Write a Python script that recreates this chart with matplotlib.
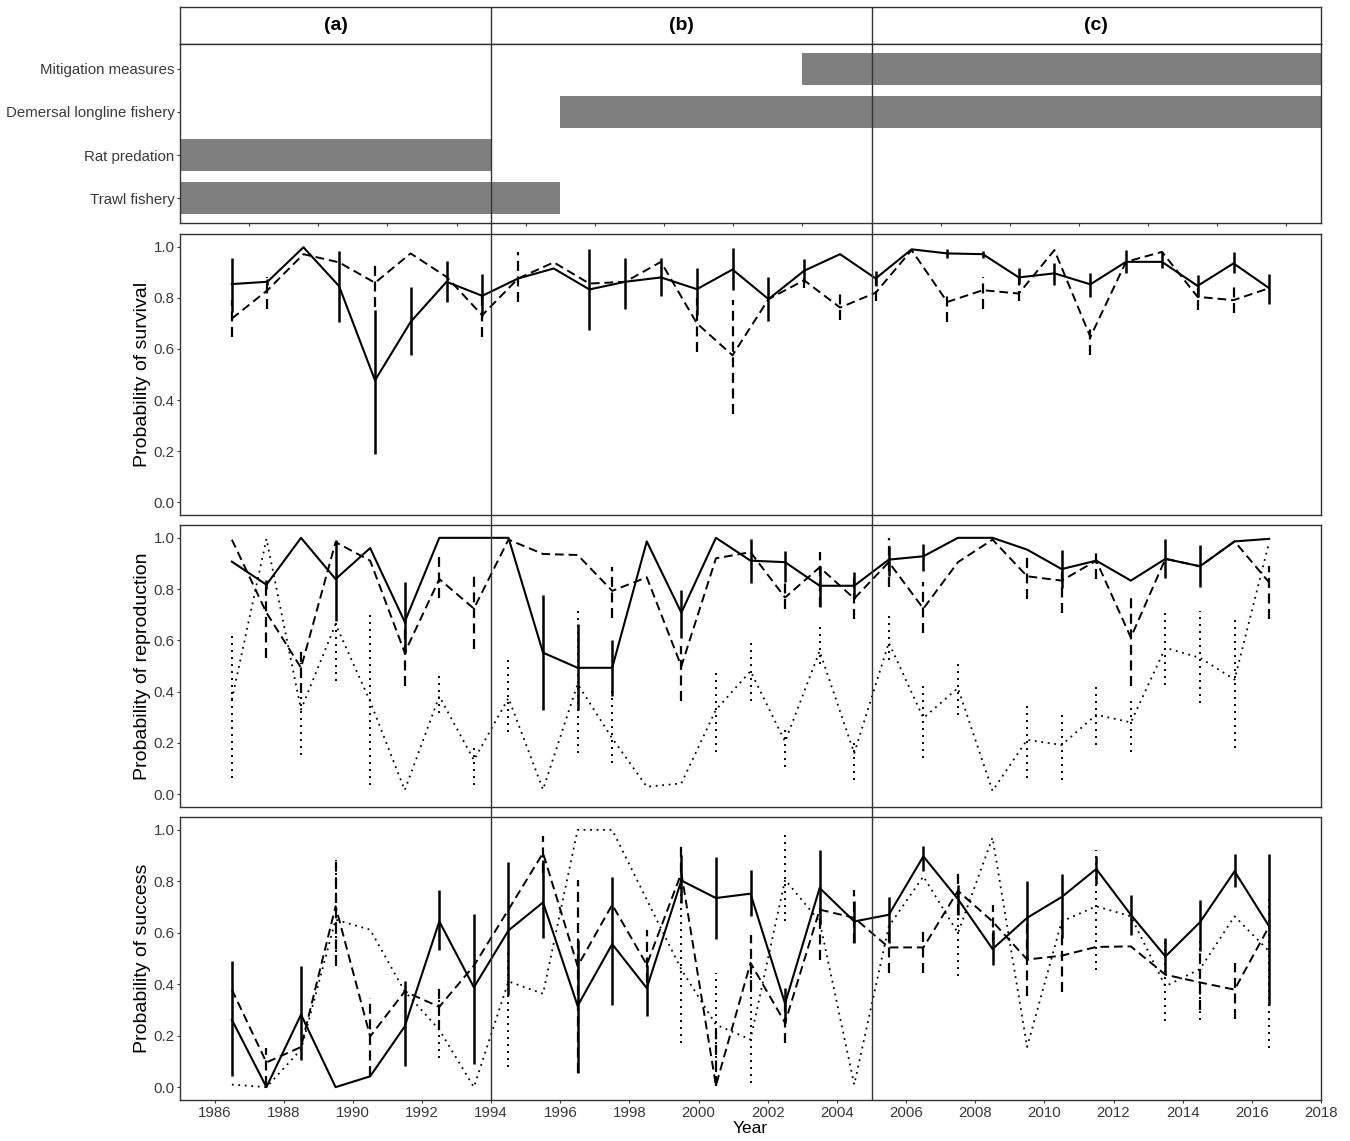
import numpy as np
import matplotlib
matplotlib.use("Agg")
import matplotlib.pyplot as plt

plt.rcParams['font.family'] = ['Liberation Sans', 'DejaVu Sans']

# ---------------- data ----------------
pressures = ["Trawl fishery", "Rat predation", "Demersal longline fishery", "Mitigation measures"]
press_start = [1985, 1985, 1996, 2003]
press_end = [1996, 1994, 2018, 2018]

period_labels = ["(a)", "(b)", "(c)"]
period_bounds = [1985, 1994, 2005, 2018]

years = [1986.5, 1987.5, 1988.5, 1989.5, 1990.5, 1991.5, 1992.5, 1993.5, 1994.5, 1995.5,
         1996.5, 1997.5, 1998.5, 1999.5, 2000.5, 2001.5, 2002.5, 2003.5, 2004.5, 2005.5,
         2006.5, 2007.5, 2008.5, 2009.5, 2010.5, 2011.5, 2012.5, 2013.5, 2014.5, 2015.5, 2016.5]

surv_x = [1986.50, 1987.53, 1988.57, 1989.60, 1990.64, 1991.67, 1992.71, 1993.74, 1994.78, 1995.81,
          1996.84, 1997.88, 1998.91, 1999.95, 2000.98, 2002.02, 2003.05, 2004.09, 2005.12, 2006.16,
          2007.19, 2008.22, 2009.26, 2010.29, 2011.33, 2012.36, 2013.40, 2014.43, 2015.47, 2016.50]

# survival, solid series
surv1 = [0.854, 0.863, 0.998, 0.846, 0.477, 0.706, 0.863, 0.808, 0.876, 0.915,
         0.833, 0.863, 0.880, 0.834, 0.911, 0.795, 0.906, 0.971, 0.876, 0.990,
         0.974, 0.971, 0.880, 0.896, 0.853, 0.941, 0.941, 0.847, 0.935, 0.838]
surv1_lo = [0.745, 0.852, None, 0.704, 0.190, 0.575, 0.784, 0.730, None, None,
            0.676, 0.758, 0.808, 0.732, 0.830, 0.709, 0.863, None, 0.848, None,
            0.955, 0.955, 0.856, 0.850, 0.805, 0.896, 0.915, 0.805, 0.896, 0.775]
surv1_hi = [0.958, 0.872, None, 0.984, 0.754, 0.843, 0.945, 0.893, None, None,
            0.990, 0.958, 0.958, 0.915, 0.994, 0.882, 0.951, None, 0.906, None,
            0.990, 0.985, 0.915, 0.935, 0.896, 0.986, 0.980, 0.890, 0.980, 0.892]
# survival, dashed series
surv2 = [0.719, 0.830, 0.971, 0.939, 0.859, 0.974, 0.882, 0.732, 0.876, 0.939,
         0.856, 0.863, 0.941, 0.700, 0.575, 0.795, 0.869, 0.762, 0.820, 0.987,
         0.784, 0.830, 0.817, 0.987, 0.647, 0.941, 0.980, 0.804, 0.791, 0.838]
surv2_lo = [0.647, 0.757, None, None, 0.765, None, None, 0.647, 0.784, None,
            None, None, None, 0.588, 0.347, None, 0.840, 0.712, 0.786, None,
            0.706, 0.756, 0.786, None, 0.575, None, None, 0.752, 0.741, None]
surv2_hi = [0.790, 0.880, None, None, 0.935, None, None, 0.820, 0.980, None,
            None, None, None, 0.800, 0.791, None, 0.900, 0.817, 0.876, None,
            0.824, 0.882, 0.876, None, 0.693, None, None, 0.837, 0.843, None]

# reproduction
repr1 = [0.907, 0.817, 1.000, 0.839, 0.960, 0.672, 1.000, 1.000, 1.000, 0.552,
         0.493, 0.493, 0.986, 0.708, 1.000, 0.911, 0.905, 0.813, 0.813, 0.915,
         0.928, 1.000, 1.000, 0.954, 0.878, 0.911, 0.833, 0.918, 0.889, 0.986, 0.996]
repr1_lo = [None, 0.800, None, 0.676, None, 0.552, None, None, None, 0.329,
            0.329, 0.384, None, 0.610, None, 0.824, 0.826, 0.732, 0.761, 0.852,
            0.870, None, None, None, 0.803, None, None, 0.842, 0.807, None, None]
repr1_hi = [None, 0.835, None, 0.993, None, 0.826, None, None, None, 0.776,
            0.663, 0.601, None, 0.797, None, 0.996, 0.950, 0.891, 0.865, 0.970,
            0.975, None, None, None, 0.954, None, None, 0.996, 0.973, None, None]
repr2 = [0.993, 0.708, 0.493, 0.983, 0.911, 0.552, 0.839, 0.724, 0.993, 0.937,
         0.933, 0.793, 0.846, 0.499, 0.920, 0.944, 0.767, 0.885, 0.763, 0.905,
         0.724, 0.905, 0.993, 0.850, 0.833, 0.911, 0.611, 0.918, 0.889, 0.986, 0.826]
repr2_lo = [None, 0.532, 0.395, None, None, 0.421, 0.767, 0.565, None, None,
            None, 0.689, None, 0.362, None, None, 0.723, 0.732, 0.682, 0.807,
            0.630, None, None, 0.761, 0.708, 0.839, 0.421, None, None, None, 0.685]
repr2_hi = [None, 0.833, 0.565, None, None, 0.682, 0.924, 0.868, None, None,
            None, 0.885, None, 0.578, None, None, 0.837, 0.944, 0.859, 1.000,
            0.826, None, None, 0.924, 0.870, 0.960, 0.776, None, None, None, 0.891]
repr3 = [0.369, 0.996, 0.330, 0.663, 0.362, 0.016, 0.382, 0.133, 0.375, 0.018,
         0.430, 0.218, 0.029, 0.042, 0.329, 0.480, 0.205, 0.558, 0.160, 0.591,
         0.297, 0.414, 0.013, 0.212, 0.192, 0.310, 0.280, 0.571, 0.532, 0.447, 0.983]
repr3_lo = [0.062, None, 0.153, 0.440, 0.035, None, 0.316, 0.035, 0.244, None,
            0.160, 0.120, None, None, 0.166, 0.362, 0.107, 0.506, 0.055, 0.525,
            0.140, 0.310, None, 0.062, 0.055, 0.192, 0.166, 0.427, 0.356, 0.179, None]
repr3_hi = [0.617, None, 0.513, 0.680, 0.715, None, 0.471, 0.192, 0.538, None,
            0.715, 0.414, None, None, 0.486, 0.604, 0.251, 0.656, 0.199, 0.695,
            0.427, 0.525, None, 0.356, 0.323, 0.434, 0.382, 0.722, 0.715, 0.689, None]

# success
succ1 = [0.262, 0.000, 0.282, 0.000, 0.042, 0.236, 0.644, 0.388, 0.609, 0.718,
         0.316, 0.556, 0.385, 0.803, 0.735, 0.752, 0.325, 0.774, 0.644, 0.670,
         0.897, 0.731, 0.537, 0.658, 0.739, 0.848, 0.670, 0.508, 0.641, 0.839, 0.625]
succ1_lo = [0.042, None, 0.104, None, None, 0.081, 0.534, 0.091, 0.359, 0.580,
            0.055, 0.318, 0.278, 0.716, 0.576, 0.664, 0.250, 0.635, 0.560, 0.560,
            0.839, 0.670, 0.476, 0.495, 0.580, 0.791, 0.593, 0.441, 0.528, 0.778, 0.321]
succ1_hi = [0.489, None, 0.472, None, None, 0.411, 0.765, 0.674, 0.874, 0.881,
            0.573, 0.817, 0.476, 0.904, 0.895, 0.843, 0.386, 0.920, 0.722, 0.739,
            0.936, 0.787, 0.612, 0.800, 0.830, 0.900, 0.748, 0.580, 0.729, 0.908, 0.908]
succ2 = [0.379, 0.096, 0.156, 0.703, 0.197, 0.372, 0.312, 0.472, 0.690, 0.910,
         0.470, 0.709, 0.476, 0.832, 0.006, 0.483, 0.250, 0.690, 0.658, 0.543,
         0.543, 0.763, 0.644, 0.496, 0.511, 0.545, 0.547, 0.437, 0.407, 0.379, 0.625]
succ2_lo = [None, 0.003, None, 0.476, 0.042, None, 0.223, None, None, 0.832,
            0.055, None, 0.405, 0.774, 0.006, 0.379, 0.172, 0.496, 0.560, 0.444,
            0.444, 0.670, 0.560, 0.353, 0.368, None, None, None, 0.300, 0.265, None]
succ2_hi = [None, 0.152, None, 0.884, 0.347, None, 0.392, 0.757, None, 0.975,
            0.806, None, 0.612, 0.949, 0.240, 0.593, 0.353, 0.698, 0.768, 0.606,
            0.606, 0.839, 0.709, 0.644, 0.651, None, None, None, 0.520, 0.483, None]
succ3 = [0.010, 0.000, 0.146, 0.651, 0.612, 0.372, 0.223, 0.000, 0.411, 0.363,
         1.000, 1.000, 0.729, 0.457, 0.243, 0.185, 0.806, 0.644, 0.010, 0.625,
         0.819, 0.599, 0.970, 0.156, 0.644, 0.703, 0.664, 0.392, 0.459, 0.664, 0.528]
succ3_lo = [None, None, None, 0.470, None, None, 0.113, None, 0.080, None,
            None, None, None, 0.172, 0.003, 0.016, 0.644, None, None, None,
            None, 0.431, None, None, None, 0.457, None, 0.256, 0.262, None, 0.152]
succ3_hi = [None, None, None, 0.884, None, None, 0.360, None, 0.540, None,
            None, None, None, 0.826, 0.444, 0.483, 0.981, None, None, None,
            None, 0.755, None, None, None, 0.920, None, 0.580, 0.567, None, 0.750]

yticks = [0.0, 0.2, 0.4, 0.6, 0.8, 1.0]
xticks = list(range(1986, 2019, 2))
bar_xticks = list(range(1987, 2018, 2))

# ---------------- layout ----------------
W, H = 1350, 1141
fig = plt.figure(figsize=(W / 100, H / 100), dpi=100)
L, R = 180, 1321


def add_ax(top, bottom):
    return fig.add_axes([L / W, 1 - bottom / H, (R - L) / W, (bottom - top) / H])


XLIM = (1985.0, 2018.0)
TICK_COL = '#3a3a3a'
SPINE_COL = '#333333'
TICK_FS = 10.8


def style(ax):
    for s in ax.spines.values():
        s.set_color(SPINE_COL)
        s.set_linewidth(1.0)
    ax.set_xlim(*XLIM)
    ax.tick_params(axis='both', colors=TICK_COL, labelcolor=TICK_COL, labelsize=TICK_FS,
                   length=2.5, width=0.8, pad=1.5)


# strip
ax_s = add_ax(7, 44)
style(ax_s)
ax_s.set_xticks([])
ax_s.set_yticks([])
ax_s.set_ylim(0, 1)
for i, lab in enumerate(period_labels):
    ax_s.text((period_bounds[i] + period_bounds[i + 1]) / 2, 0.5, lab, ha='center', va='center',
              fontsize=14, fontweight='bold', color='black')

# pressures
ax_p = add_ax(44, 223)
style(ax_p)
ypos = np.arange(1, len(pressures) + 1)
ax_p.barh(ypos, np.array(press_end) - np.array(press_start), left=press_start,
          height=0.74, color='#7f7f7f', edgecolor='none')
ax_p.set_ylim(0.42, 4.58)
ax_p.set_yticks(ypos)
ax_p.set_yticklabels(pressures)
ax_p.set_xticks(bar_xticks)
ax_p.set_xticklabels([])


def draw(ax, x, y, lo, hi, ls, lw, elw):
    x = np.array(x, dtype=float)
    ax.plot(x, y, color='black', linestyle=ls, lw=lw, solid_joinstyle='round')
    lo_a = np.array([np.nan if v is None else v for v in lo], dtype=float)
    hi_a = np.array([np.nan if v is None else v for v in hi], dtype=float)
    m = ~np.isnan(lo_a)
    ax.vlines(x[m], lo_a[m], hi_a[m], colors='black', linestyles=ls, lw=elw)


DASH = (0, (4.5, 2.5))
DOT = (0, (1, 2.6))

panels = [
    (234, 515, "Probability of survival",
     [(surv_x, surv1, surv1_lo, surv1_hi, '-', 1.5, 1.8),
      (surv_x, surv2, surv2_lo, surv2_hi, DASH, 1.4, 1.6)]),
    (525, 807, "Probability of reproduction",
     [(years, repr1, repr1_lo, repr1_hi, '-', 1.5, 1.8),
      (years, repr2, repr2_lo, repr2_hi, DASH, 1.4, 1.6),
      (years, repr3, repr3_lo, repr3_hi, DOT, 1.3, 1.4)]),
    (817, 1100, "Probability of success",
     [(years, succ1, succ1_lo, succ1_hi, '-', 1.5, 1.8),
      (years, succ2, succ2_lo, succ2_hi, DASH, 1.4, 1.6),
      (years, succ3, succ3_lo, succ3_hi, DOT, 1.3, 1.4)]),
]

axes = []
for top, bot, ylab, series in panels:
    ax = add_ax(top, bot)
    style(ax)
    for (x, y, lo, hi, ls, lw, elw) in series:
        draw(ax, x, y, lo, hi, ls, lw, elw)
    ax.set_ylim(-0.05, 1.05)
    ax.set_yticks(yticks)
    ax.set_yticklabels([f"{v:.1f}" for v in yticks])
    ax.set_ylabel(ylab, fontsize=14, color='black', labelpad=2)
    ax.set_xticks(xticks)
    ax.set_xticklabels([])
    ax.tick_params(axis='x', length=0)
    axes.append(ax)

axes[-1].set_xticklabels([str(t) for t in xticks])
axes[-1].tick_params(axis='x', length=2.5)
axes[-1].set_xlabel("Year", fontsize=12.5, color='black', labelpad=1)

# period boundaries across the whole figure
ax_o = fig.add_axes([L / W, 1 - 1100 / H, (R - L) / W, (1100 - 7) / H], facecolor='none')
ax_o.set_xlim(*XLIM)
ax_o.set_ylim(0, 1)
ax_o.axis('off')
for b in period_bounds[1:-1]:
    ax_o.axvline(b, color='#333333', lw=1.0)

fig.savefig("out.png", dpi=100)
